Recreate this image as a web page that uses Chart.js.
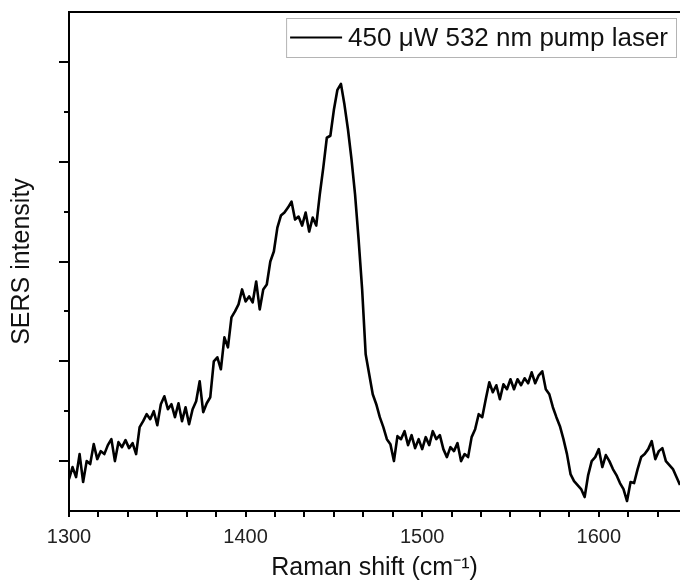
<!DOCTYPE html>
<html>
<head>
<meta charset="utf-8">
<title>SERS spectrum</title>
<script src="https://cdn.jsdelivr.net/npm/chart.js@4/dist/chart.umd.min.js"></script>
<style>
  html, body { margin: 0; padding: 0; background: #fff; }
  #spectrum { display: block; }
</style>
</head>
<body>
<canvas id="spectrum" width="680" height="583"></canvas>
<script>
// Raman shift (cm-1), sampled every 2 cm-1
const ramanShift = [];
for (let s = 1300; s <= 1646; s += 2) ramanShift.push(s);

// SERS intensity (a.u.) at each shift above
const sersIntensity = [
  820, 940, 840, 1070, 790, 1000, 970, 1170, 1020, 1100,
  1070, 1160, 1220, 1000, 1190, 1140, 1210, 1130, 1180, 1070,
  1340, 1400, 1470, 1420, 1500, 1360, 1570, 1650, 1520, 1570,
  1440, 1580, 1400, 1540, 1370, 1520, 1600, 1800, 1490, 1580,
  1640, 2000, 2040, 1920, 2240, 2140, 2440, 2500, 2570, 2720,
  2600, 2650, 2590, 2800, 2520, 2720, 2770, 3000, 3100, 3340,
  3460, 3490, 3540, 3600, 3420, 3450, 3360, 3490, 3300, 3440,
  3360, 3670, 3940, 4240, 4260, 4520, 4720, 4780, 4570, 4320,
  4020, 3670, 3220, 2720, 2070, 1870, 1670, 1570, 1440, 1340,
  1220, 1170, 1000, 1250, 1220, 1300, 1160, 1260, 1130, 1220,
  1120, 1240, 1160, 1300, 1220, 1260, 1120, 1040, 1140, 1100,
  1180, 1000, 1070, 1040, 1240, 1320, 1470, 1440, 1620, 1790,
  1690, 1760, 1620, 1770, 1720, 1820, 1720, 1820, 1760, 1830,
  1780, 1890, 1780, 1860, 1900, 1720, 1670, 1540, 1440, 1350,
  1220, 1070, 870, 800, 760, 720, 640, 860, 1000, 1040,
  1120, 940, 1060, 1000, 920, 860, 780, 720, 600, 790,
  780, 920, 1040, 1070, 1120, 1200, 1020, 1100, 1130, 1000,
  960, 920, 840, 760
];

const seriesLabel = '450 \u03bcW 532 nm pump laser';

// axis ranges and tick positions
const xRange = [1300, 1646];
const xLabelTicks = [1300, 1400, 1500, 1600];
const xMinorSplits = 6;
const yRange = [500, 5500];
const yMajorTicks = [1000, 2000, 3000, 4000, 5000];
const yMinorTicks = [1500, 2500, 3500, 4500];

const FONT = "'Liberation Sans', Arial, sans-serif";

// outward tick marks, top frame line and a boxed legend in the upper right
const frameAndLegend = {
  id: 'frameAndLegend',
  afterDraw(chart) {
    const { ctx, chartArea: area, scales: { x, y } } = chart;
    ctx.save();
    ctx.strokeStyle = '#000';
    ctx.lineWidth = 2;

    ctx.beginPath();
    ctx.moveTo(area.left - 1, area.top);
    ctx.lineTo(area.right, area.top);
    ctx.stroke();

    y.ticks.forEach(t => {
      const py = Math.round(y.getPixelForValue(t.value));
      const len = yMajorTicks.includes(t.value) ? 10 : 5;
      ctx.beginPath();
      ctx.moveTo(area.left, py);
      ctx.lineTo(area.left - len, py);
      ctx.stroke();
    });

    x.ticks.forEach(t => {
      const px = Math.round(x.getPixelForValue(t.value));
      ctx.beginPath();
      ctx.moveTo(px, area.bottom);
      ctx.lineTo(px, area.bottom + 6);
      ctx.stroke();
    });

    // legend box
    const ds = chart.data.datasets[0];
    ctx.font = '26px ' + FONT;
    const textW = ctx.measureText(ds.label).width;
    const sample = 52;
    const boxRight = area.right - 4;
    const boxLeft = boxRight - (4 + sample + 6 + textW + 8);
    const boxTop = area.top + 6;
    const boxH = 39;
    ctx.fillStyle = '#fff';
    ctx.fillRect(boxLeft, boxTop, boxRight - boxLeft, boxH);
    ctx.strokeStyle = '#b4b4b4';
    ctx.lineWidth = 1;
    ctx.strokeRect(boxLeft + 0.5, boxTop + 0.5, boxRight - boxLeft, boxH);

    const midY = boxTop + boxH / 2;
    ctx.strokeStyle = ds.borderColor;
    ctx.lineWidth = 2;
    ctx.beginPath();
    ctx.moveTo(boxLeft + 4, midY);
    ctx.lineTo(boxLeft + 4 + sample, midY);
    ctx.stroke();

    ctx.fillStyle = '#111';
    ctx.textBaseline = 'middle';
    ctx.textAlign = 'left';
    ctx.fillText(ds.label, boxLeft + 4 + sample + 6, midY + 1);
    ctx.restore();
  }
};

new Chart(document.getElementById('spectrum'), {
  type: 'line',
  data: {
    datasets: [{
      label: seriesLabel,
      data: ramanShift.map((s, i) => ({ x: s, y: sersIntensity[i] })),
      borderColor: '#000',
      borderWidth: 2.6,
      borderJoinStyle: 'round',
      pointRadius: 0,
      tension: 0,
      fill: false
    }]
  },
  options: {
    responsive: false,
    animation: false,
    layout: { padding: { top: 12, right: 0, left: 0, bottom: 0 } },
    plugins: {
      legend: { display: false },
      tooltip: { enabled: false }
    },
    scales: {
      x: {
        type: 'linear',
        min: xRange[0],
        max: xRange[1],
        grid: { display: false, drawTicks: false },
        border: { display: true, color: '#000', width: 2 },
        afterBuildTicks(scale) {
          const step = (xLabelTicks[1] - xLabelTicks[0]) / xMinorSplits;
          const ticks = [];
          for (let i = 0; xRange[0] + i * step <= xRange[1]; i++) {
            ticks.push({ value: xRange[0] + i * step });
          }
          scale.ticks = ticks;
        },
        afterFit(scale) { scale.height = 72; },
        ticks: {
          autoSkip: false,
          maxRotation: 0,
          padding: 14,
          color: '#222',
          font: { family: FONT, size: 20 },
          callback(value) {
            const r = Math.round(value);
            return Math.abs(value - r) < 1e-6 && xLabelTicks.includes(r) ? String(r) : '';
          }
        },
        title: {
          display: true,
          text: 'Raman shift (cm\u207b\u00b9)',
          color: '#111',
          font: { family: FONT, size: 25 },
          padding: { top: 0, bottom: 0 }
        }
      },
      y: {
        type: 'linear',
        min: yRange[0],
        max: yRange[1],
        grid: { display: false, drawTicks: false },
        border: { display: true, color: '#000', width: 2 },
        afterBuildTicks(scale) {
          scale.ticks = yMajorTicks.concat(yMinorTicks).sort((a, b) => a - b).map(v => ({ value: v }));
        },
        afterFit(scale) { scale.width = 69; },
        ticks: { display: false },
        title: {
          display: true,
          text: 'SERS intensity',
          color: '#111',
          font: { family: FONT, size: 25 },
          padding: { top: 7, bottom: 0 }
        }
      }
    }
  },
  plugins: [frameAndLegend]
});
</script>
</body>
</html>
